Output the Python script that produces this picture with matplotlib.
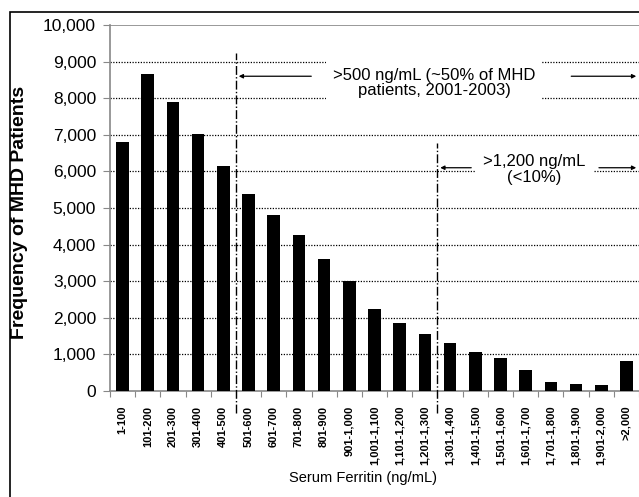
import matplotlib.pyplot as plt
from matplotlib.patches import Rectangle

# ferritin bins and counts
cats = ['1-100', '101-200', '201-300', '301-400', '401-500', '501-600', '601-700',
        '701-800', '801-900', '901-1,000', '1,001-1,100', '1,101-1,200', '1,201-1,300',
        '1,301-1,400', '1,401-1,500', '1,501-1,600', '1,601-1,700', '1,701-1,800',
        '1,801-1,900', '1,901-2,000', '>2,000']
counts = [6800, 8650, 7900, 7020, 6150, 5390, 4820, 4270, 3620, 3010, 2240, 1845,
          1553, 1324, 1068, 895, 566, 256, 201, 164, 822]
yticks = [0, 1000, 2000, 3000, 4000, 5000, 6000, 7000, 8000, 9000, 10000]

plt.rcParams['font.family'] = ['Liberation Sans', 'DejaVu Sans']

fig = plt.figure(figsize=(6.39, 4.97), dpi=100)
ax = fig.add_axes([110/639, 106/497, 529/639, 366/497])

x = list(range(len(cats)))
ax.bar(x, counts, width=0.5, color='black', zorder=3)

ax.set_xlim(-0.5, -0.5 + 529/25.4)
ax.set_ylim(0, 10000)

# dotted grid
for v in yticks[1:-1]:
    ax.axhline(v, color='black', lw=0.9, ls=(0, (1, 1.2)), zorder=1)
ax.axhline(10000, color='#888888', lw=1.2, zorder=1)

for s in ['top', 'right']:
    ax.spines[s].set_visible(False)
for s in ['left', 'bottom']:
    ax.spines[s].set_color('#888888')
    ax.spines[s].set_linewidth(1.2)

ax.set_yticks(yticks)
ax.set_yticklabels(['{:,}'.format(v) for v in yticks], fontsize=12.5)
ax.tick_params(axis='y', length=5, color='#888888', pad=5)
ax.set_xticks([i - 0.5 for i in x] + [len(x) - 0.5])
ax.set_xticklabels([])
ax.tick_params(axis='x', length=4, color='#888888')
for i, c in enumerate(cats):
    ax.text(i, -400, c, rotation=90, ha='center', va='top', fontsize=8,
            fontweight='bold')

# cutoff lines
ax.plot([4.5, 4.5], [-600, 9230], color='black', lw=1, ls='-.', clip_on=False, zorder=4)
ax.plot([12.5, 12.5], [-600, 6770], color='black', lw=1, ls='-.', clip_on=False, zorder=4)

xr = ax.get_xlim()[1]
ap = dict(arrowstyle='-|>', color='black', lw=0.9, mutation_scale=6)
ax.annotate('', xy=(4.5, 8600), xytext=(7.6, 8600), arrowprops=ap, zorder=5)
ax.annotate('', xy=(xr, 8600), xytext=(17.7, 8600), arrowprops=ap, zorder=5)
ax.annotate('', xy=(12.5, 6100), xytext=(13.95, 6100), arrowprops=ap, zorder=5)
ax.annotate('', xy=(xr, 6100), xytext=(18.8, 6100), arrowprops=ap, zorder=5)

ax.text(12.37, 8420, '>500 ng/mL (~50% of MHD\npatients, 2001-2003)', ha='center',
        va='center', fontsize=12, linespacing=1.05, zorder=6,
        bbox=dict(facecolor='white', edgecolor='none', pad=5))
ax.text(16.35, 6050, '>1,200 ng/mL\n(<10%)', ha='center', va='center', fontsize=12,
        linespacing=1.05, zorder=6,
        bbox=dict(facecolor='white', edgecolor='none', pad=5))

fig.text(20/639, 1 - 212/497, 'Frequency of MHD Patients', rotation=90, ha='center',
         va='center', fontsize=14, fontweight='bold')
fig.text(363/639, 1 - 478/497, 'Serum Ferritin (ng/mL)', ha='center', va='center',
         fontsize=10.5)

# outer frame
fig.patches.append(Rectangle((10/639, -0.2), 1.2, 0.2 + 1 - 12/497, transform=fig.transFigure,
                             fill=False, edgecolor='black', lw=1.2))

fig.savefig('out.png', dpi=100)
